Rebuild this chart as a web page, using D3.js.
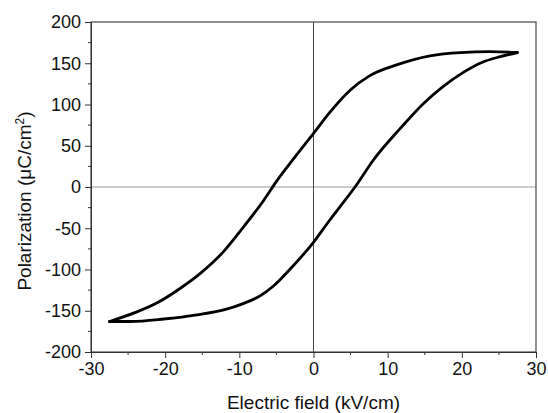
<!DOCTYPE html>
<html>
<head>
<meta charset="utf-8">
<script src="https://cdn.jsdelivr.net/npm/d3@7"></script>
<style>
  body { margin: 0; background: #fff; }
  text { font-family: "Liberation Sans", Arial, sans-serif; fill: #111; }
</style>
</head>
<body>
<div id="chart"></div>
<script>
// descending branch (from +Emax down to -Emax)
var fieldDown = [27.5, 23.8, 19.8, 15.7, 11.2, 7.6, 4.9, 2.25, 0, -2.7, -4.9, -6.7, -9.4, -12.1, -15.3, -18, -21, -24, -27.5];
var polDown = [163, 164, 163, 159, 148, 135, 117, 91, 65, 34, 8, -16, -48, -78, -105, -123, -140, -152, -163];
// ascending branch (from -Emax up to +Emax)
var fieldUp = [-27.5, -24.7, -20.2, -15.7, -12.1, -9.4, -7.2, -5.4, -3.1, 0, 2.2, 4.0, 5.6, 8.1, 11.7, 14.8, 17.5, 20.2, 22.7, 25.2, 27.5];
var polUp = [-163, -163, -160, -155, -149, -141, -132, -120, -99, -67, -40, -19, 0, 33, 71, 101, 122, 139, 151, 158, 163];

var xTicks = [-30, -20, -10, 0, 10, 20, 30];
var yTicks = [-200, -150, -100, -50, 0, 50, 100, 150, 200];

var width = 548, height = 413;
var margin = {top: 22, right: 12, bottom: 61, left: 91};

var svg = d3.select("#chart").append("svg")
    .attr("width", width)
    .attr("height", height);

var x = d3.scaleLinear().domain([-30, 30]).range([margin.left, width - margin.right]);
var y = d3.scaleLinear().domain([-200, 200]).range([height - margin.bottom, margin.top]);

// zero lines
svg.append("line")
    .attr("x1", x(-30)).attr("x2", x(30))
    .attr("y1", y(0)).attr("y2", y(0))
    .attr("stroke", "#999").attr("stroke-width", 1);
svg.append("line")
    .attr("x1", x(0)).attr("x2", x(0))
    .attr("y1", y(-200)).attr("y2", y(200))
    .attr("stroke", "#444").attr("stroke-width", 1);

// frame
svg.append("rect")
    .attr("x", x(-30)).attr("y", y(200))
    .attr("width", x(30) - x(-30))
    .attr("height", y(-200) - y(200))
    .attr("fill", "none")
    .attr("stroke", "#555")
    .attr("stroke-width", 1.3);

// minor ticks
var xMinor = d3.range(-25, 30, 10);
var yMinor = d3.range(-175, 200, 50);
svg.selectAll(".xminor").data(xMinor).enter().append("line")
    .attr("x1", function(d) { return x(d); }).attr("x2", function(d) { return x(d); })
    .attr("y1", y(-200)).attr("y2", y(-200) + 3)
    .attr("stroke", "#333");
svg.selectAll(".yminor").data(yMinor).enter().append("line")
    .attr("y1", function(d) { return y(d); }).attr("y2", function(d) { return y(d); })
    .attr("x1", x(-30)).attr("x2", x(-30) - 3)
    .attr("stroke", "#333");

var fmt = function(d) { return String(d); };
var xAxis = svg.append("g")
    .attr("transform", "translate(0," + y(-200) + ")")
    .call(d3.axisBottom(x).tickValues(xTicks).tickFormat(fmt).tickSize(6).tickPadding(4));
var yAxis = svg.append("g")
    .attr("transform", "translate(" + x(-30) + ",0)")
    .call(d3.axisLeft(y).tickValues(yTicks).tickFormat(fmt).tickSize(6).tickPadding(4));

[xAxis, yAxis].forEach(function(g) {
    g.select(".domain").attr("stroke", "#333");
    g.selectAll(".tick line").attr("stroke", "#333");
    g.selectAll(".tick text")
        .style("font-family", "'Liberation Sans', Arial, sans-serif")
        .style("font-size", "18px")
        .attr("fill", "#111");
});

// hysteresis loop, one path per branch (each is monotone in x)
var down = fieldDown.map(function(d, i) { return [d, polDown[i]]; }).reverse();
var up = fieldUp.map(function(d, i) { return [d, polUp[i]]; });

var line = d3.line()
    .curve(d3.curveMonotoneX)
    .x(function(d) { return x(d[0]); })
    .y(function(d) { return y(d[1]); });

svg.selectAll(".branch")
    .data([down, up])
    .enter().append("path")
    .attr("class", "branch")
    .attr("d", line)
    .attr("fill", "none")
    .attr("stroke", "#000")
    .attr("stroke-width", 2.8)
    .attr("stroke-linejoin", "round")
    .attr("stroke-linecap", "round");

// axis titles
svg.append("text")
    .attr("x", x(0))
    .attr("y", 409)
    .attr("text-anchor", "middle")
    .style("font-size", "19px")
    .text("Electric field (kV/cm)");

var yt = svg.append("text")
    .attr("transform", "translate(31,201) rotate(-90)")
    .attr("text-anchor", "middle")
    .style("font-size", "19px");
yt.append("tspan").text("Polarization (\u03bcC/cm");
yt.append("tspan").attr("dy", -7).style("font-size", "12px").text("2");
yt.append("tspan").attr("dy", 7).text(")");
</script>
</body>
</html>
